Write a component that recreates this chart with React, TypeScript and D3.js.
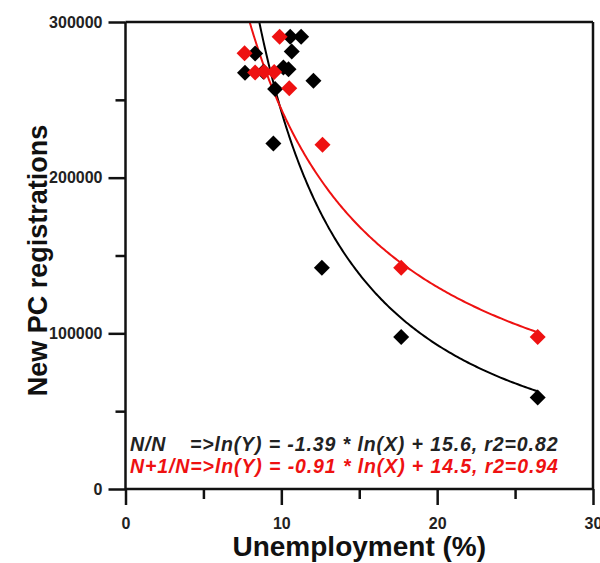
import {useEffect, useRef} from 'react';
import * as d3 from 'd3';

// Unemployment (%) in year N
const blackX = [10.57, 11.27, 10.67, 8.32, 7.67, 8.85, 10.13, 10.46, 12.06, 9.6, 9.49, 12.6, 17.69, 26.45];
// New PC registrations in year N
const blackY = [290500, 290500, 281100, 279800, 267400, 268000, 270800, 269700, 262200, 256900, 221900, 142100, 97700, 58800];

// Unemployment (%) in year N vs registrations in year N+1
const redX = [9.89, 7.64, 8.32, 8.9, 9.54, 10.51, 12.64, 17.69, 26.45];
const redY = [290500, 279900, 267600, 268100, 267800, 257400, 221100, 142100, 97700];

// fitted coefficients shown on the chart: ln(Y) = a * ln(X) + b
const blackFit = {a: -1.39, b: 15.6};
const redFit = {a: -0.91, b: 14.5};

const xMajor = [0, 10, 20, 30];
const xMinor = [5, 15, 25];
const yMajor = [0, 100000, 200000, 300000];
const yMinor = [50000, 150000, 250000];

const labelBlack = ['N/N', '=>ln(Y) = -1.39 * ln(X) + 15.6, r2=0.82'];
const labelRed = 'N+1/N=>ln(Y) = -0.91 * ln(X) + 14.5, r2=0.94';

const App = () => {
  const svgRef = useRef<SVGSVGElement>(null);
  const width = 600;
  const height = 563;

  useEffect(() => {
    const svg = d3.select(svgRef.current);
    svg.selectAll('*').remove();

    const margin = {top: 22, right: 7, bottom: 74, left: 125.5};
    const x = d3.scaleLinear().domain([0, 30]).range([margin.left, width - margin.right]);
    const y = d3.scaleLinear().domain([0, 300000]).range([height - margin.bottom, margin.top]);
    const font = 'Arial, "Liberation Sans", Helvetica, sans-serif';
    const axisColor = '#111';

    svg.append('clipPath').attr('id', 'plot-clip')
      .append('rect')
      .attr('x', x(0)).attr('y', y(300000))
      .attr('width', x(30) - x(0)).attr('height', y(0) - y(300000));

    // fitted curves
    const curve = (fit, x0, x1) => d3.range(0, 201).map(i => {
      const xv = x0 * Math.pow(x1 / x0, i / 200);
      return [xv, Math.exp(fit.a * Math.log(xv) + fit.b)];
    });
    const line = d3.line().x(d => x(d[0])).y(d => y(d[1]));

    svg.append('path')
      .datum(curve(blackFit, d3.min(blackX), d3.max(blackX)))
      .attr('fill', 'none').attr('stroke', '#000').attr('stroke-width', 2)
      .attr('clip-path', 'url(#plot-clip)')
      .attr('d', line);

    svg.append('path')
      .datum(curve(redFit, d3.min(redX), d3.max(redX)))
      .attr('fill', 'none').attr('stroke', '#ee1111').attr('stroke-width', 2)
      .attr('clip-path', 'url(#plot-clip)')
      .attr('d', line);

    // diamond markers
    const diamond = 'M0,-8L8,0L0,8L-8,0Z';
    svg.append('g').selectAll('path')
      .data(d3.zip(blackX, blackY))
      .enter().append('path')
      .attr('d', diamond)
      .attr('transform', d => `translate(${x(d[0])},${y(d[1])})`)
      .attr('fill', '#000');

    svg.append('g').selectAll('path')
      .data(d3.zip(redX, redY))
      .enter().append('path')
      .attr('d', diamond)
      .attr('transform', d => `translate(${x(d[0])},${y(d[1])})`)
      .attr('fill', '#ee1111');

    // axes
    const styleAxis = g => {
      g.select('.domain').remove();
      g.selectAll('line').attr('stroke', axisColor).attr('stroke-width', 2.5);
      g.selectAll('text')
        .attr('fill', '#222')
        .style('font-family', font)
        .style('font-weight', 'bold')
        .style('font-size', '16px');
    };

    svg.append('g')
      .attr('transform', `translate(0,${y(0)})`)
      .call(d3.axisBottom(x).tickValues(xMinor).tickSize(10).tickFormat(() => ''))
      .call(styleAxis);
    svg.append('g')
      .attr('transform', `translate(0,${y(0)})`)
      .call(d3.axisBottom(x).tickValues(xMajor).tickSize(16).tickPadding(13).tickFormat(d3.format('d')))
      .call(styleAxis);

    svg.append('g')
      .attr('transform', `translate(${x(0)},0)`)
      .call(d3.axisLeft(y).tickValues(yMinor).tickSize(10).tickFormat(() => ''))
      .call(styleAxis);
    svg.append('g')
      .attr('transform', `translate(${x(0)},0)`)
      .call(d3.axisLeft(y).tickValues(yMajor).tickSize(17).tickPadding(6).tickFormat(d3.format('d')))
      .call(styleAxis);

    // frame
    const frame = svg.append('g').attr('stroke', axisColor).attr('stroke-width', 2.5).attr('fill', 'none');
    frame.append('line').attr('x1', x(0)).attr('x2', x(30)).attr('y1', y(0)).attr('y2', y(0));
    frame.append('line').attr('x1', x(0)).attr('x2', x(30)).attr('y1', y(300000)).attr('y2', y(300000));
    frame.append('line').attr('x1', x(0)).attr('x2', x(0)).attr('y1', y(300000)).attr('y2', y(0));
    frame.append('line').attr('x1', x(30)).attr('x2', x(30)).attr('y1', y(300000)).attr('y2', y(0));

    // equations
    const eq = svg.append('g')
      .style('font-family', font)
      .style('font-weight', 'bold')
      .style('font-style', 'italic')
      .style('font-size', '19.5px')
      .style('letter-spacing', '0.9px');
    const t1 = eq.append('text').attr('y', 451).attr('fill', '#222');
    t1.append('tspan').attr('x', 130).text(labelBlack[0]);
    t1.append('tspan').attr('x', 190).text(labelBlack[1]);
    eq.append('text').attr('x', 130).attr('y', 473).attr('fill', '#ee1111').text(labelRed);

    // axis titles
    svg.append('text')
      .attr('x', (x(0) + x(30)) / 2)
      .attr('y', 556)
      .attr('text-anchor', 'middle')
      .style('font-family', font)
      .style('font-weight', 'bold')
      .style('font-size', '28px')
      .attr('fill', '#111')
      .text('Unemployment (%)');

    svg.append('text')
      .attr('transform', `translate(47, ${y(150000) + 5}) rotate(-90)`)
      .attr('text-anchor', 'middle')
      .style('font-family', font)
      .style('font-weight', 'bold')
      .style('font-size', '27px')
      .attr('fill', '#111')
      .text('New PC registrations');
  }, []);

  return <svg ref={svgRef} width={width} height={height}
    style={{position: 'absolute', left: 0, top: 0, background: '#fff'}}/>;
};

export default App;
